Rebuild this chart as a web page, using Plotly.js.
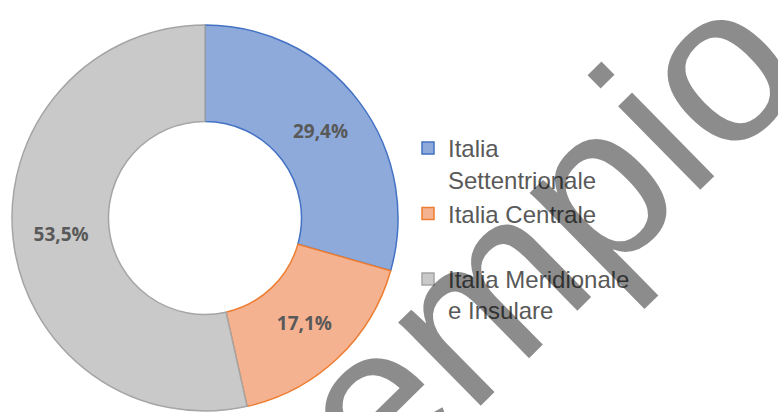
<!DOCTYPE html>
<html>
<head>
<meta charset="utf-8">
<script src="https://cdn.plot.ly/plotly-3.0.1.min.js"></script>
<style>html,body{margin:0;padding:0;background:#fff;}#chart{width:778px;height:412px;}</style>
</head>
<body>
<div id="chart"></div>
<script>
const categories = ['Italia<br>Settentrionale', 'Italia Centrale<br> ', 'Italia Meridionale<br>e Insulare'];
const shares = [29.4, 17.1, 53.5];
const fillColors = ['#8eaadb', '#f5b291', '#c9c9c9'];
const lineColors = ['#4472c4', '#ed7d31', '#a5a5a5'];
const watermark = 'esempio';

const trace = {
  type: 'pie',
  labels: categories,
  values: shares,
  hole: 0.5,
  sort: false,
  direction: 'clockwise',
  rotation: 0,
  marker: {colors: fillColors, line: {color: lineColors, width: 1.5}},
  texttemplate: '%{value:.1f}%',
  textposition: 'inside',
  insidetextorientation: 'horizontal',
  textfont: {family: 'Open Sans', size: 19, color: '#595959', weight: 'bold'},
  domain: {x: [12/778, 398/778], y: [1/412, 387/412]},
  hoverinfo: 'label+percent'
};

const layout = {
  width: 778, height: 412,
  margin: {l: 0, r: 0, t: 0, b: 0},
  paper_bgcolor: '#ffffff',
  separators: ',.',
  showlegend: true,
  legend: {
    x: 408/778, xanchor: 'left', y: 1 - 126/412, yanchor: 'top',
    font: {family: 'Liberation Sans', size: 24, color: '#595959'},
    valign: 'top', bgcolor: 'rgba(0,0,0,0)', borderwidth: 0
  },
  annotations: [{
    text: watermark, xref: 'paper', yref: 'paper',
    x: 460/778, y: 1 - 318/412, xanchor: 'center', yanchor: 'middle',
    showarrow: false, textangle: -44.5,
    font: {family: 'Liberation Sans', size: 222, color: 'rgba(0,0,0,0.45)'}
  }]
};

Plotly.newPlot('chart', [trace], layout, {displayModeBar: false, staticPlot: true});
</script>
</body>
</html>
